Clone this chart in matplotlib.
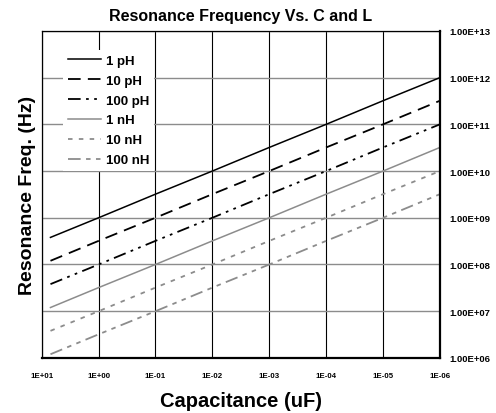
import numpy as np
import matplotlib
matplotlib.use('Agg')
import matplotlib.pyplot as plt

plt.rcParams['font.family'] = ['Liberation Sans', 'DejaVu Sans']
plt.rcParams['font.weight'] = 'bold'

# capacitance in uF (x axis runs from 10 down to 1e-6)
cap_uF = [7, 1, 1e-1, 1e-2, 1e-3, 1e-4, 1e-5, 1e-6]

# resonance frequency (Hz)
f_1pH = [3.8e8, 1.0e9, 3.2e9, 1.0e10, 3.2e10, 1.0e11, 3.2e11, 1.0e12]
f_10pH = [1.2e8, 3.2e8, 1.0e9, 3.2e9, 1.0e10, 3.2e10, 1.0e11, 3.2e11]
f_100pH = [3.8e7, 1.0e8, 3.2e8, 1.0e9, 3.2e9, 1.0e10, 3.2e10, 1.0e11]
f_1nH = [1.2e7, 3.2e7, 1.0e8, 3.2e8, 1.0e9, 3.2e9, 1.0e10, 3.2e10]
f_10nH = [3.8e6, 1.0e7, 3.2e7, 1.0e8, 3.2e8, 1.0e9, 3.2e9, 1.0e10]
f_100nH = [1.2e6, 3.2e6, 1.0e7, 3.2e7, 1.0e8, 3.2e8, 1.0e9, 3.2e9]

labels = ['1 pH', '10 pH', '100 pH', '1 nH', '10 nH', '100 nH']

x_ticks = [1e1, 1e0, 1e-1, 1e-2, 1e-3, 1e-4, 1e-5, 1e-6]
x_ticklabels = ['1E+01', '1E+00', '1E-01', '1E-02', '1E-03', '1E-04', '1E-05', '1E-06']
y_ticks = [1e6, 1e7, 1e8, 1e9, 1e10, 1e11, 1e12, 1e13]
y_ticklabels = ['1.00E+06', '1.00E+07', '1.00E+08', '1.00E+09',
                '1.00E+10', '1.00E+11', '1.00E+12', '1.00E+13']

gray = '#8c8c8c'

fig = plt.figure(figsize=(4.96, 4.14), dpi=100)
ax = fig.add_axes([0.084, 0.133, 0.803, 0.79])

ax.plot(cap_uF, f_1pH, color='black', lw=1.1, label=labels[0])
ax.plot(cap_uF, f_10pH, color='black', lw=1.3, dashes=(7, 4), label=labels[1])
ax.plot(cap_uF, f_100pH, color='black', lw=1.3, dashes=(7, 3, 1.5, 3, 1.5, 3), label=labels[2])
ax.plot(cap_uF, f_1nH, color=gray, lw=1.1, label=labels[3])
ax.plot(cap_uF, f_10nH, color=gray, lw=1.3, dashes=(2.5, 3.5), label=labels[4])
ax.plot(cap_uF, f_100nH, color=gray, lw=1.3, dashes=(7, 3, 2.5, 3, 2.5, 3), label=labels[5])

ax.set_xscale('log')
ax.set_yscale('log')
ax.set_xlim(10, 1e-6)
ax.set_ylim(1e6, 1e13)

ax.set_xticks(x_ticks)
ax.set_xticklabels(x_ticklabels, fontsize=5.7, fontweight='bold')
ax.set_yticks(y_ticks)
ax.set_yticklabels(y_ticklabels, fontsize=6.8, fontweight='bold')
ax.minorticks_off()
ax.yaxis.tick_right()
ax.tick_params(axis='both', length=0)
ax.tick_params(axis='x', pad=10)
ax.tick_params(axis='y', pad=7)

for xv in x_ticks:
    ax.axvline(xv, color='black', lw=0.8, zorder=0)
for yv in y_ticks:
    ax.axhline(yv, color=gray, lw=1.0, zorder=0)

for s in ['top', 'left']:
    ax.spines[s].set_linewidth(0.9)
for s in ['right', 'bottom']:
    ax.spines[s].set_linewidth(1.6)

ax.set_title('Resonance Frequency Vs. C and L', fontsize=11.5, fontweight='bold', pad=8)
ax.set_xlabel('Capacitance (uF)', fontsize=14.5, fontweight='bold', labelpad=9)
ax.set_ylabel('Resonance Freq. (Hz)', fontsize=14, fontweight='bold', labelpad=4)

leg = ax.legend(loc='upper left', bbox_to_anchor=(0.036, 0.963), fontsize=9.5,
                frameon=True, fancybox=False, edgecolor='none', facecolor='white',
                framealpha=1, handlelength=2.5, handletextpad=0.4,
                labelspacing=0.58, borderpad=0.38)
for t in leg.get_texts():
    t.set_fontweight('bold')

fig.savefig('out.png', dpi=100)
